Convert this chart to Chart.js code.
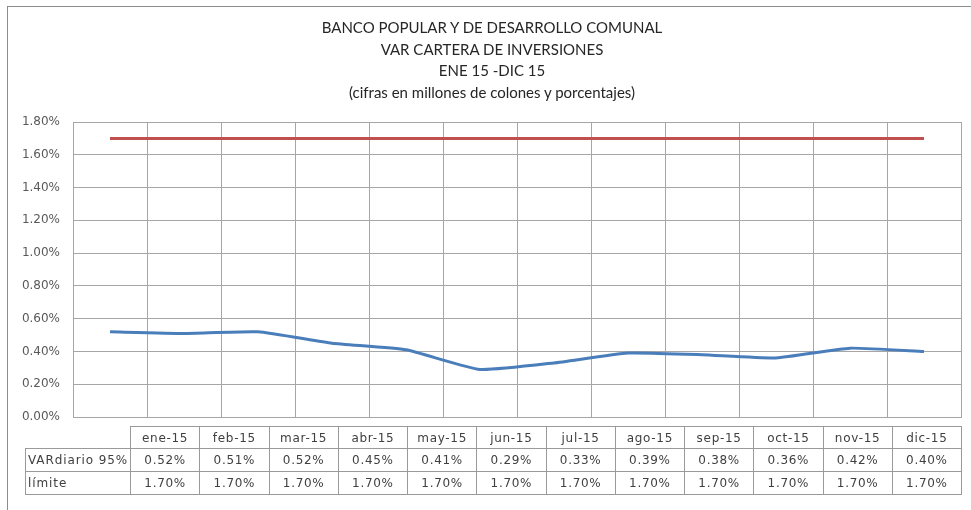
<!DOCTYPE html>
<html>
<head>
<meta charset="utf-8">
<script src="https://cdn.jsdelivr.net/npm/chart.js@4"></script>
<style>
  html, body { margin:0; padding:0; background:#fff; }
  #wrap { position:relative; width:971px; height:510px; overflow:hidden; }
  #frame { position:absolute; left:7px; top:6px; width:1000px; height:600px; border-left:1px solid #8c8c8c; border-top:1px solid #8c8c8c; box-sizing:border-box; }
  #c { position:absolute; left:0; top:0; }
  #title { position:absolute; left:0; top:17px; width:984px; text-align:center; font-family:"Liberation Sans Narrow","Lato",sans-serif; font-size:15px; line-height:21.7px; color:#262626; }
  #tbl { position:absolute; left:25px; top:426px; border-collapse:collapse; font-family:"DejaVu Sans",sans-serif; font-size:12px; letter-spacing:0.7px; color:#404040; table-layout:fixed; }
  #tbl td { border:1px solid #9a9a9a; padding:0; text-align:center; white-space:nowrap; overflow:hidden; }
  #tbl td.lab { text-align:left; padding-left:2px; letter-spacing:0.9px; }
  #tbl td.blank { border:none; }
</style>
</head>
<body>
<div id="wrap">
  <div id="frame"></div>
  <canvas id="c" width="971" height="510"></canvas>
  <div id="title"></div>
  <table id="tbl"></table>
</div>
<script>
const titleLines = ["BANCO POPULAR Y DE DESARROLLO COMUNAL","VAR CARTERA DE INVERSIONES","ENE 15 -DIC 15","(cifras en millones de colones y porcentajes)"];
const months = ["ene-15","feb-15","mar-15","abr-15","may-15","jun-15","jul-15","ago-15","sep-15","oct-15","nov-15","dic-15"];
const seriesNames = ["VARdiario 95%","límite"];
const varDiario = [0.52,0.51,0.52,0.45,0.41,0.29,0.33,0.39,0.38,0.36,0.42,0.40];
const limite = [1.70,1.70,1.70,1.70,1.70,1.70,1.70,1.70,1.70,1.70,1.70,1.70];
const yTicks = [0,0.2,0.4,0.6,0.8,1.0,1.2,1.4,1.6,1.8];

const fmt = v => v.toFixed(2) + '%';

document.getElementById('title').innerHTML = titleLines.map(s => '<div>' + s.replace(/&/g,'&amp;') + '</div>').join('');

// data table
(function(){
  const t = document.getElementById('tbl');
  const colW = 69.25, labW = 105;
  const rowH = [22, 23, 23];
  let html = '<colgroup><col style="width:' + labW + 'px">' + months.map(()=>'<col style="width:' + colW + 'px">').join('') + '</colgroup>';
  html += '<tr style="height:' + rowH[0] + 'px"><td class="blank"></td>' + months.map(m => '<td>' + m + '</td>').join('') + '</tr>';
  const rows = [varDiario, limite];
  rows.forEach((r, i) => {
    html += '<tr style="height:' + rowH[i+1] + 'px"><td class="lab">' + seriesNames[i] + '</td>' + r.map(v => '<td>' + fmt(v) + '</td>').join('') + '</tr>';
  });
  t.innerHTML = html;
  t.style.width = (labW + colW * months.length) + 'px';
})();

new Chart(document.getElementById('c'), {
  type: 'line',
  data: {
    labels: months,
    datasets: [
      { label: seriesNames[0], data: varDiario, borderColor: '#4a7ebb', backgroundColor: '#4a7ebb', borderWidth: 3, pointRadius: 0, tension: 0.15 },
      { label: seriesNames[1], data: limite, borderColor: '#c0504d', backgroundColor: '#c0504d', borderWidth: 3, pointRadius: 0, tension: 0 }
    ]
  },
  options: {
    responsive: false,
    animation: false,
    devicePixelRatio: 1,
    layout: { padding: { left: 0, right: 10, top: 122, bottom: 93 } },
    plugins: { legend: { display: false }, title: { display: false }, tooltip: { enabled: false } },
    scales: {
      x: {
        offset: true,
        grid: { offset: true, color: '#a6a6a6', lineWidth: 1, drawTicks: false },
        border: { color: '#a6a6a6' },
        ticks: { display: false },
        afterFit: s => { s.height = 0; }
      },
      y: {
        min: 0, max: 1.8,
        afterBuildTicks: s => { s.ticks = yTicks.map(v => ({ value: v })); },
        grid: { color: '#a6a6a6', lineWidth: 1, drawTicks: false },
        border: { color: '#a6a6a6' },
        ticks: { callback: v => fmt(v), padding: 13, color: '#595959', font: { family: 'DejaVu Sans', size: 12 } },
        afterFit: s => { s.width = 73; }
      }
    }
  }
});
</script>
</body>
</html>
